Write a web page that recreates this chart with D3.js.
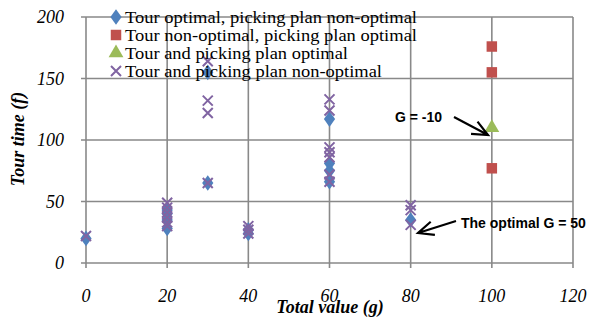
<!DOCTYPE html>
<html><head><meta charset="utf-8">
<script src="https://cdn.jsdelivr.net/npm/d3@7"></script>
<style>body{margin:0;background:#fff}svg{display:block}
.serif{font-family:"Liberation Serif","Times New Roman","DejaVu Serif",serif}
.sans{font-family:"Liberation Sans",Arial,"DejaVu Sans",sans-serif}
</style>
</head><body>
<svg id="c" width="598" height="321"></svg>
<script>
const seriesNames = ["Tour optimal, picking plan non-optimal","Tour non-optimal, picking plan optimal","Tour and picking plan optimal","Tour and picking plan non-optimal"];
const seriesColors = ["#4F81BD","#C0504D","#9BBB59","#8064A2"];
const blueX = [0,20,20,20,20,30,30,40,40,60,60,60,60,80];
const blueY = [20,28,35,40,43,155,65,24,27,117,81,75,66,35];
const redX = [100,100,100];
const redY = [176,155,77];
const greenX = [100];
const greenY = [110];
const purpleX = [0,20,20,20,20,20,20,30,30,30,30,40,40,40,60,60,60,60,60,60,60,80,80,80];
const purpleY = [22,49,45,41,37,33,30,164,132,122,65,30,27,24,133,124,94,90,86,72,66,47,43,31];
const xTicks = [0,20,40,60,80,100,120];
const yTicks = [0,50,100,150,200];
const annotations = [{text:"G = -10", tx:395, ty:117, from:[454,117], to:[488,135]},
                     {text:"The optimal G = 50", tx:461, ty:223, from:[456,221], to:[418,233]}];

const svg = d3.select("#c");
const L=86,R=573,T=17,B=263;
const x = d3.scaleLinear().domain([0,120]).range([L,R]);
const y = d3.scaleLinear().domain([0,200]).range([B,T]);
const grid="#898989";
svg.append("g").selectAll("line").data(xTicks).join("line")
  .attr("x1",d=>x(d)).attr("x2",d=>x(d)).attr("y1",T).attr("y2",B+5)
  .attr("stroke",grid).attr("stroke-width",1.6);
svg.append("g").selectAll("line").data(yTicks).join("line")
  .attr("x1",L-5).attr("x2",R).attr("y1",d=>y(d)).attr("y2",d=>y(d))
  .attr("stroke",grid).attr("stroke-width",1.6);
svg.append("g").selectAll("text").data(yTicks).join("text").attr("class","serif")
  .attr("x",64).attr("y",d=>y(d)).attr("dy","0.35em").attr("text-anchor","end")
  .attr("font-style","italic").attr("font-size",18)
  .text(d=>d);
svg.append("g").selectAll("text").data(xTicks).join("text").attr("class","serif")
  .attr("x",d=>x(d)).attr("y",296).attr("dy","0.35em").attr("text-anchor","middle")
  .attr("font-style","italic").attr("font-size",18)
  .text(d=>d);
svg.append("text").attr("class","serif").attr("x",330).attr("y",313).attr("text-anchor","middle")
  .attr("font-style","italic").attr("font-weight","bold").attr("font-size",18)
  .text("Total value (g)");
svg.append("text").attr("class","serif").attr("transform","translate(24,139) rotate(-90)").attr("text-anchor","middle")
  .attr("font-style","italic").attr("font-weight","bold").attr("font-size",18)
  .text("Tour time (f)");

const sym = [d3.symbolDiamond, d3.symbolSquare, d3.symbolTriangle];
const symSize = [70, 110, 95];
function drawMarker(g, i, px, py){
  if(i===3){
    const s=5;
    g.append("path").attr("d",`M${px-s},${py-s}L${px+s},${py+s}M${px+s},${py-s}L${px-s},${py+s}`)
      .attr("stroke",seriesColors[3]).attr("stroke-width",2).attr("fill","none");
  } else {
    g.append("path").attr("d",d3.symbol(sym[i],symSize[i])()).attr("transform",`translate(${px},${py})${i===0?" scale(1.25,1)":""}`)
      .attr("fill",seriesColors[i]);
  }
}
const data = [[blueX,blueY],[redX,redY],[greenX,greenY],[purpleX,purpleY]];
data.forEach(([xs,ys],i)=>{
  const g=svg.append("g");
  xs.forEach((xv,j)=>drawMarker(g,i,x(xv),y(ys[j])));
});
const legendEnds = [417,417,348,382];
seriesNames.forEach((n,i)=>{
  const ly=17+i*18;
  const g=svg.append("g");
  drawMarker(g,i,116,ly);
  g.append("text").attr("class","serif").attr("x",125).attr("y",ly).attr("dy","0.35em")
    .attr("font-size",17.5).attr("textLength",legendEnds[i]-125).attr("lengthAdjust","spacingAndGlyphs").text(n);
});
annotations.forEach(a=>{
  svg.append("text").attr("class","sans").attr("x",a.tx).attr("y",a.ty).attr("dy","0.35em")
    .attr("font-weight","bold").attr("font-size",14).text(a.text);
  const [x1,y1]=a.from,[x2,y2]=a.to;
  const ang=Math.atan2(y2-y1,x2-x1), h=17, w=0.42;
  const p1=[x2-h*Math.cos(ang-w), y2-h*Math.sin(ang-w)];
  const p2=[x2-h*Math.cos(ang+w), y2-h*Math.sin(ang+w)];
  svg.append("path").attr("d",`M${x1},${y1}L${x2},${y2}M${p1[0]},${p1[1]}L${x2},${y2}L${p2[0]},${p2[1]}`)
    .attr("stroke","#000").attr("stroke-width",2.2).attr("fill","none");
});
</script>
</body></html>
